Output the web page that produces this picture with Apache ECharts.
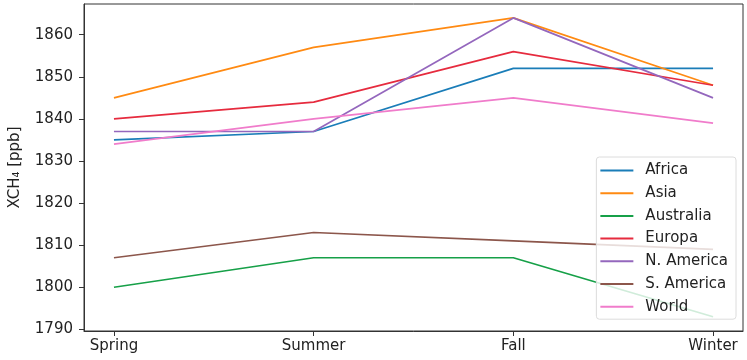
<!DOCTYPE html>
<html>
<head>
<meta charset="utf-8">
<script src="https://cdn.jsdelivr.net/npm/echarts@6/dist/echarts.min.js"></script>
<style>
  html, body { margin: 0; padding: 0; background: #fff; }
  #chart { width: 747px; height: 360px; }
</style>
</head>
<body>
<div id="chart"></div>
<script>
// seasons on the x axis
var seasons = ["Spring", "Summer", "Fall", "Winter"];
var yTicks = [1790, 1800, 1810, 1820, 1830, 1840, 1850, 1860];

// XCH4 per region [ppb]
var africa = [1835, 1837, 1852, 1852];
var asia = [1845, 1857, 1864, 1848];
var australia = [1800, 1807, 1807, 1793];
var europa = [1840, 1844, 1856, 1848];
var nAmerica = [1837, 1837, 1864, 1845];
var sAmerica = [1807, 1813, 1811, 1809];
var world = [1834, 1840, 1845, 1839];

var regions = ["Africa", "Asia", "Australia", "Europa", "N. America", "S. America", "World"];
var values = [africa, asia, australia, europa, nAmerica, sAmerica, world];
var colors = ["#1a7db8", "#ff8a12", "#16a048", "#e62b3e", "#9467bd", "#8c564b", "#f07ccb"];

var font = "DejaVu Sans";

var series = regions.map(function (name, i) {
    return {
        name: name,
        type: "line",
        showSymbol: false,
        symbol: "none",
        data: values[i].map(function (v, j) { return [j, v]; }),
        lineStyle: { color: colors[i], width: 1.7 },
        itemStyle: { color: colors[i] },
        emphasis: { disabled: true }
    };
});

var myChart = echarts.init(document.getElementById("chart"));
var option = {
    animation: false,
    grid: {
        left: 80, right: 4, top: 4, bottom: 29,
        show: true, borderColor: "#333", borderWidth: 1
    },
    xAxis: {
        type: "value",
        min: -0.15,
        max: 3.15,
        splitLine: { show: false },
        axisLine: { show: true, onZero: false, lineStyle: { color: "#333" } },
        axisTick: { show: true, length: 5, customValues: [0, 1, 2, 3], lineStyle: { color: "#333" } },
        axisLabel: {
            customValues: [0, 1, 2, 3],
            formatter: function (v) { return seasons[Math.round(v)]; },
            color: "#222", fontFamily: font, fontSize: 15, margin: 8
        }
    },
    yAxis: {
        type: "value",
        min: 1789.6,
        max: 1867.3,
        name: "XCH\u2084 [ppb]",
        nameLocation: "middle",
        nameGap: 61,
        nameTextStyle: { color: "#222", fontFamily: font, fontSize: 15 },
        splitLine: { show: false },
        axisLine: { show: true, onZero: false, lineStyle: { color: "#333" } },
        axisTick: { show: true, length: 5, customValues: yTicks, lineStyle: { color: "#333" } },
        axisLabel: {
            customValues: yTicks,
            formatter: function (v) { return String(v); },
            color: "#222", fontFamily: font, fontSize: 15, margin: 11
        }
    },
    legend: {
        orient: "vertical",
        right: 11,
        top: 157,
        icon: "rect",
        itemWidth: 33,
        itemHeight: 2,
        itemGap: 7.7,
        padding: [6, 8, 5, 4],
        backgroundColor: "rgba(255,255,255,0.8)",
        borderColor: "#dcdcdc",
        borderWidth: 1,
        borderRadius: 3,
        textStyle: { color: "#222", fontFamily: font, fontSize: 15, padding: [0, 0, 0, 7] },
        data: regions
    },
    series: series
};
option && myChart.setOption(option);
</script>
</body>
</html>
